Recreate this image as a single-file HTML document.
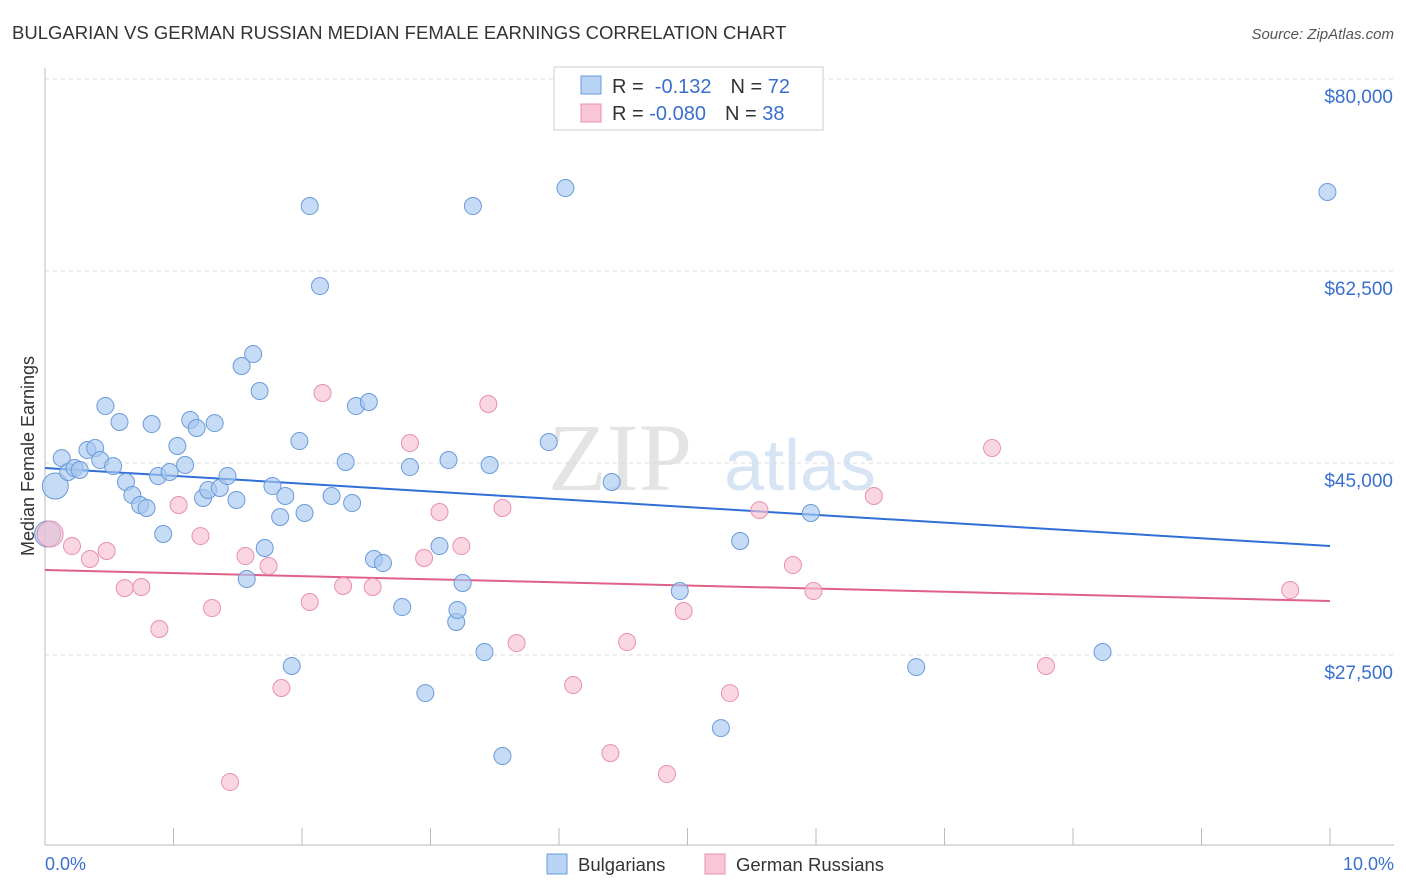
<!DOCTYPE html>
<html><head><meta charset="utf-8"><style>
body{margin:0;background:#fff;font-family:"Liberation Sans",sans-serif}
svg{display:block}
</style></head><body>
<svg id="c" width="1406" height="892">
<text x="12" y="39" font-size="18.5" fill="#333">BULGARIAN VS GERMAN RUSSIAN MEDIAN FEMALE EARNINGS CORRELATION CHART</text>
<text x="1394" y="39" font-size="15" fill="#555" font-style="italic" text-anchor="end">Source: ZipAtlas.com</text>
<text x="620" y="490" font-size="96" fill="#e4e4e4" font-family="Liberation Serif" text-anchor="middle">ZIP</text>
<text x="800" y="490" font-size="72" fill="#d6e4f4" text-anchor="middle">atlas</text>
<g id="grid"></g><g id="axes"></g><g id="lines"></g><g id="pts"></g>
<text transform="translate(34,456) rotate(-90)" font-size="18" fill="#333" text-anchor="middle">Median Female Earnings</text>
<text x="45" y="870" font-size="18" fill="#3a6fd0">0.0%</text>
<text x="1394" y="870" font-size="18" fill="#3a6fd0" text-anchor="end">10.0%</text>
<g>
<rect x="554" y="67" width="269" height="63" fill="#fff" stroke="#ccc"/>
<rect x="581" y="76" width="20" height="18" fill="#b8d3f3" stroke="#6a9bd8"/>
<rect x="581" y="104" width="20" height="18" fill="#f9c6d5" stroke="#e890b0"/>
<text x="612" y="93" font-size="20" fill="#333">R = <tspan fill="#3a6fd0">&#160;-0.132</tspan><tspan dx="19">N = </tspan><tspan fill="#3a6fd0">72</tspan></text>
<text x="612" y="120" font-size="20" fill="#333">R = <tspan fill="#3a6fd0">-0.080</tspan><tspan dx="19">N = </tspan><tspan fill="#3a6fd0">38</tspan></text>
</g>
<g>
<rect x="547" y="854" width="20" height="20" fill="#b8d3f3" stroke="#6a9bd8"/>
<text x="578" y="871" font-size="18.5" fill="#333">Bulgarians</text>
<rect x="705" y="854" width="20" height="20" fill="#f9c6d5" stroke="#e890b0"/>
<text x="736" y="871" font-size="18.5" fill="#333">German Russians</text>
</g>
</svg>
<script>
const yTicks=[80000,62500,45000,27500];
const yTickLabels=["$80,000","$62,500","$45,000","$27,500"];
const blueX=[.08,.13,.18,.23,.27,.33,.39,.43,.47,.53,.58,.63,.68,.74,.79,.83,.88,.92,.97,1.03,1.09,1.13,1.18,1.23,1.27,1.32,1.36,1.42,1.49,1.53,1.57,1.62,1.67,1.71,1.77,1.83,1.87,1.92,1.98,2.02,2.06,2.14,2.23,2.34,2.39,2.42,2.52,2.56,2.63,2.78,2.84,2.96,3.07,3.14,3.20,3.21,3.25,3.33,3.42,3.46,3.56,3.92,4.05,4.41,4.94,5.26,5.41,5.96,6.78,8.23,9.98,.02];
const blueY=[42900,45450,44180,44540,44360,46180,46370,45270,50190,44720,48740,43270,42080,41170,40900,48550,43810,38530,44180,46550,44820,48920,48190,41810,42540,48640,42720,43810,41630,53840,34430,54930,51560,37250,42900,40080,41990,26500,47000,40440,68420,61130,41990,45090,41350,50190,50560,36250,35880,31870,44630,24030,37430,45270,30510,31600,34060,68420,27770,44820,18290,46910,70060,43270,33330,20840,37890,40440,26400,27770,69700,38530];
const pinkX=[.04,.21,.35,.48,.62,.75,.89,1.04,1.21,1.30,1.44,1.56,1.74,1.84,2.06,2.16,2.32,2.55,2.84,2.95,3.07,3.24,3.45,3.56,3.67,4.11,4.40,4.53,4.84,4.97,5.33,5.56,5.82,5.98,6.45,7.37,7.79,9.69];
const pinkY=[38530,37430,36250,36980,33600,33700,29870,41170,38340,31780,15920,36520,35610,24490,32330,51380,33790,33700,46820,36340,40530,37430,50380,40900,28590,24760,18560,28680,16650,31510,24030,40710,35700,33330,41990,46370,26500,33420];
const blueTrend=[44540,37430];
const pinkTrend=[35250,32420];
const X=v=>45+v*128.5, Y=v=>79+(80000-v)*192/17500;
const NS="http://www.w3.org/2000/svg";
function mk(p,t,a){const e=document.createElementNS(NS,t);for(const k in a)e.setAttribute(k,a[k]);document.getElementById(p).appendChild(e);return e;}
yTicks.forEach((t,i)=>{
 const l=mk('grid','line',{x1:45,x2:1394,y1:Y(t),y2:Y(t),stroke:'#ddd','stroke-dasharray':'4,4'});
 
 
 const tx=mk('grid','text',{x:1393,y:Y(t)+24,'font-size':19,fill:'#3a6fd0','text-anchor':'end'});
 tx.textContent=yTickLabels[i];
 
 
});
let a=mk('axes','line',{x1:45,x2:45,y1:68,y2:845,stroke:'#bbb'});


a=mk('axes','line',{x1:45,x2:1394,y1:845,y2:845,stroke:'#bbb'});


for(let i=1;i<=10;i++){const t=mk('axes','line',{x1:45+i*128.5,x2:45+i*128.5,y1:828,y2:845,stroke:'#bbb'});
 
 }
let tl=mk('lines','line',{x1:X(0),x2:X(10),y1:Y(blueTrend[0]),y2:Y(blueTrend[1]),stroke:'#2f6fd6','stroke-width':2});


tl=mk('lines','line',{x1:X(0),x2:X(10),y1:Y(pinkTrend[0]),y2:Y(pinkTrend[1]),stroke:'#e0608a','stroke-width':2});


function dots(xs,ys,fill,st,name){xs.forEach((x,i)=>{
 const r=(x<0.1)?13:8.5;
 const c=mk('pts','circle',{cx:X(x),cy:Y(ys[i]),r:r,fill:fill,'fill-opacity':0.65,stroke:st,'stroke-width':1});
 
 
});}
dots(blueX,blueY,'#a8c8f0','#6a9bd8','bulgarians-point');
dots(pinkX,pinkY,'#f8c0d0','#e890b0','german-russians-point');
</script>
</body></html>
